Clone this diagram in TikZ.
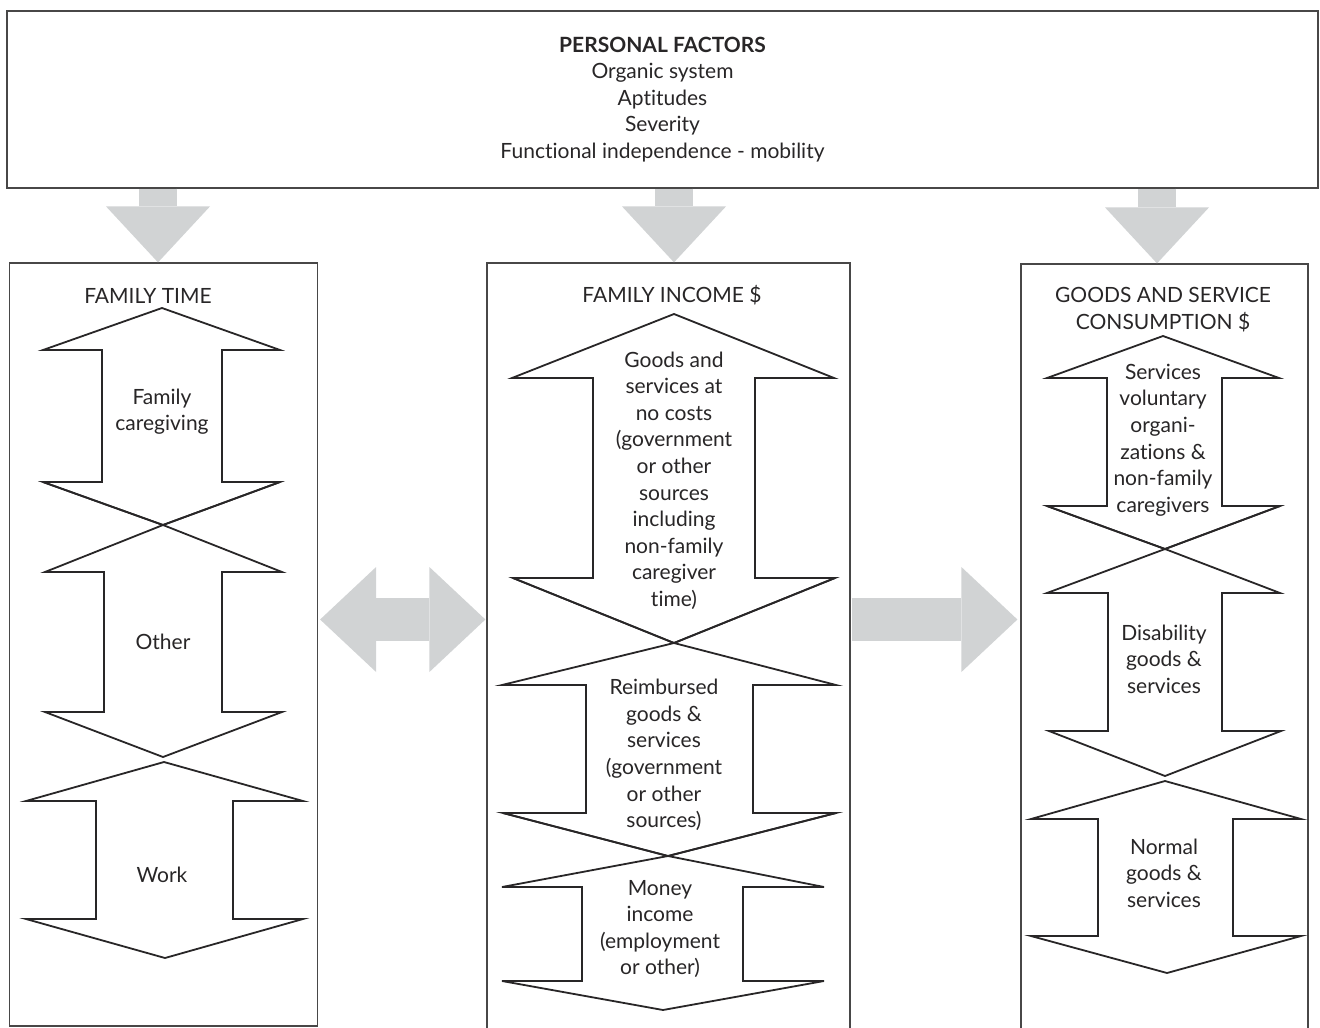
\documentclass[tikz,border=0pt]{standalone}
\usepackage{fontspec}
\setmainfont{Lato}[Ligatures=NoCommon]
\usetikzlibrary{arrows.meta}
\definecolor{arrgray}{RGB}{209,211,212}
\definecolor{ink}{RGB}{40,38,39}
\tikzset{
  txt/.style={align=center, text=ink, font={\fontsize{21}{26.6}\selectfont}, inner sep=0pt},
  panel/.style={draw=ink!85, line width=1.2pt, inner sep=0pt},
  dbl/.style={draw=ink, line width=1.8pt, line join=miter, fill=white},
  gtipv/.tip={Triangle[width=104pt,length=56pt,line width=0pt,color=arrgray,fill=arrgray]},
  gtiph/.tip={Triangle[width=105pt,length=56pt,line width=0pt,color=arrgray,fill=arrgray]},
  garrow/.style={draw=arrgray, line width=38pt, -gtipv},
  harrow/.style={draw=arrgray, line width=43pt, gtiph-gtiph},
  harrowr/.style={draw=arrgray, line width=43pt, -gtiph}
}
\begin{document}
\begin{tikzpicture}[x=1pt,y=-1pt]
\useasboundingbox (0,0) rectangle (1320,1028);

% top box
\node[panel, txt, minimum width=1311pt, minimum height=177pt] (pf) at (662.5,99.5)
  {\textbf{PERSONAL FACTORS}\\Organic system\\Aptitudes\\Severity\\Functional independence - mobility};

% three panels
\node[panel, minimum width=308pt, minimum height=763pt] (ft) at (163.5,644.5) {};
\node[panel, minimum width=363pt, minimum height=770pt] (inc) at (668.5,648) {};
\node[panel, minimum width=287pt, minimum height=770pt] (gs) at (1164.5,649) {};

% gray arrows from personal factors
\draw[garrow] ([xshift=-5.5pt]ft.north |- pf.south) -- ([xshift=-5.5pt]ft.north);
\draw[garrow] ([xshift=5.5pt]inc.north |- pf.south) -- ([xshift=5.5pt]inc.north);
\draw[garrow] ([xshift=-7.5pt]gs.north |- pf.south) -- ([xshift=-7.5pt]gs.north);

% horizontal gray arrows
\coordinate (hy) at (0,619.5);
\draw[harrow] ([xshift=2pt]ft.east |- hy) -- ([xshift=-1pt]inc.west |- hy);
\draw[harrowr] ([xshift=1pt]inc.east |- hy) -- ([xshift=-3pt]gs.west |- hy);

% titles
\node[txt] (ftT) at (148,296) {FAMILY TIME};
\node[txt] (incT) at (672,295) {FAMILY INCOME \$};
\node[txt] (gsT) at (1163,309.5) {GOODS AND SERVICE\\CONSUMPTION \$};

% family time double arrows
\draw[dbl] (162,308) -- (280,350) -- (222,350) -- (222,482) -- (280,482) -- (163,525)
  -- (43,482) -- (102,482) -- (102,350) -- (43,350) -- cycle;
\draw[dbl] (163,525) -- (282,572) -- (222,572) -- (222,712) -- (282,712) -- (163,757)
  -- (45,712) -- (104,712) -- (104,572) -- (45,572) -- cycle;
\draw[dbl] (164,762) -- (303,801) -- (233,801) -- (233,919) -- (303,919) -- (165,958)
  -- (26,919) -- (96,919) -- (96,801) -- (26,801) -- cycle;
% redraw crossing of first two
\draw[ink, line width=1.8pt] (43,482) -- (163,525) -- (280,482);

% family income double arrows
\draw[dbl] (674,314) -- (834,378) -- (755,378) -- (755,578) -- (835,578) -- (674,643)
  -- (513,578) -- (593,578) -- (593,378) -- (512,378) -- cycle;
\draw[dbl] (674,643) -- (836,685) -- (753,685) -- (753,813) -- (836,813) -- (668,856)
  -- (503,813) -- (586,813) -- (586,685) -- (502,685) -- cycle;
\draw[ink, line width=1.8pt] (513,578) -- (674,643) -- (835,578);
\draw[dbl] (668,856) -- (824,887) -- (743,887) -- (743,981) -- (824,981) -- (663,1010)
  -- (502,981) -- (582,981) -- (582,887) -- (502,887) -- cycle;
\draw[ink, line width=1.8pt] (503,813) -- (668,856) -- (836,813);

% goods and service double arrows
\draw[dbl] (1163,336) -- (1279,378) -- (1222,378) -- (1222,506) -- (1280,506) -- (1165,549)
  -- (1047,506) -- (1107,506) -- (1107,378) -- (1047,378) -- cycle;
\draw[dbl] (1165,549) -- (1280,593) -- (1222,593) -- (1222,731) -- (1281,731) -- (1165,776)
  -- (1049,731) -- (1108,731) -- (1108,593) -- (1047,593) -- cycle;
\draw[ink, line width=1.8pt] (1047,506) -- (1165,549) -- (1280,506);
\draw[dbl] (1165,781) -- (1301,819) -- (1233,819) -- (1233,936) -- (1301,936) -- (1167,973)
  -- (1031,936) -- (1098,936) -- (1098,819) -- (1031,819) -- cycle;

% labels
\node[txt] (fc) at (162,411.5) {Family\\caregiving};
\node[txt] (oth) at (163,642) {Other};
\node[txt] (wrk) at (162,875) {Work};

\node[txt] (nc) at (674,480.5) {Goods and\\services at\\no costs\\(government\\or other\\sources\\including\\non-family\\caregiver\\time)};
\node[txt] (rb) at (664,755) {Reimbursed\\goods \&\\services\\(government\\or other\\sources)};
\node[txt] (mi) at (660,929) {Money\\income\\(employment\\or other)};

\node[txt] (sv) at (1163,440) {Services\\voluntary\\organi-\\zations \&\\non-family\\caregivers};
\node[txt] (dg) at (1164,659) {Disability\\goods \&\\services};
\node[txt] (ng) at (1164,873) {Normal\\goods \&\\services};
\end{tikzpicture}
\end{document}
